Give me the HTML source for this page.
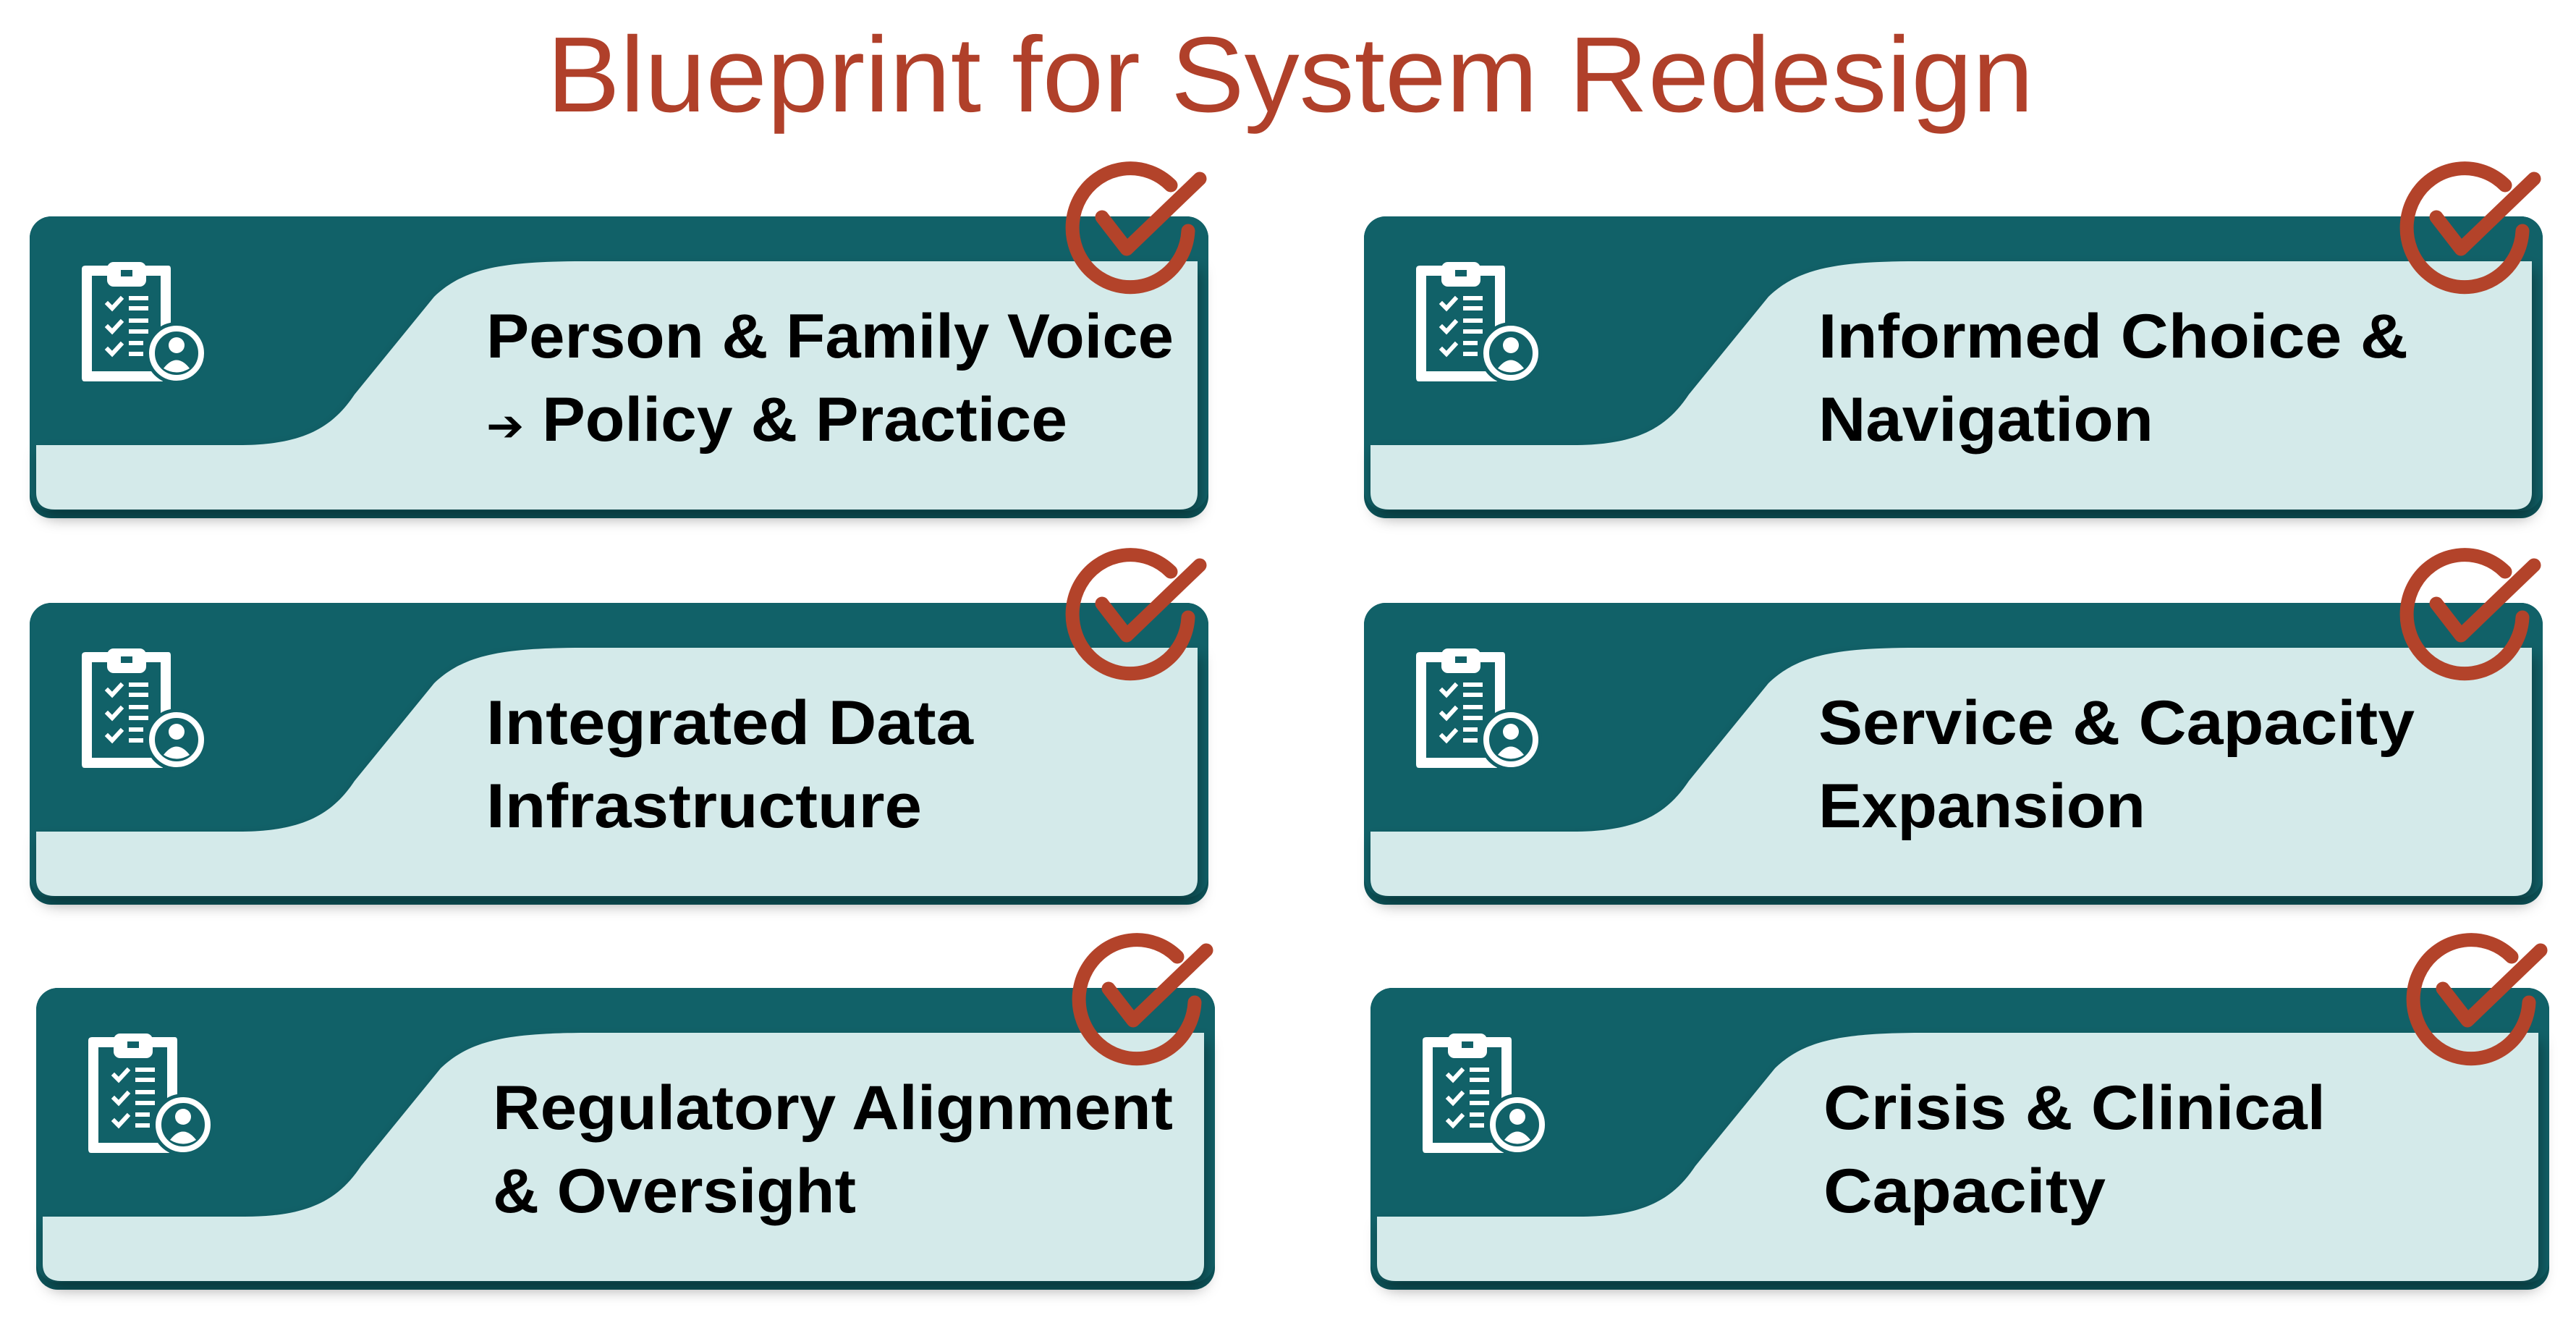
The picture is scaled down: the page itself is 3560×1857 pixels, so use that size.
<!DOCTYPE html>
<html><head><meta charset="utf-8"><style>
html,body{margin:0;padding:0;background:#fff;}
svg{display:block;}
</style></head><body>
<svg width="3560" height="1857" viewBox="0 0 3560 1857" xmlns="http://www.w3.org/2000/svg">
<defs>
<filter id="sh" x="-5%" y="-10%" width="110%" height="130%">
<feDropShadow dx="4" dy="12" stdDeviation="10" flood-color="#000" flood-opacity="0.35"/>
</filter>
<g id="card">
<rect x="41" y="299" width="1629" height="417" rx="30" fill="#0c555b"/>
<rect x="41" y="299" width="1629" height="407" rx="30" fill="#116168"/>
<path filter="url(#sh)" d="M50,615 L330,615 C420,615 460,590 490,545 L600,410 C640,372 690,361 806,361 L1655,361 L1655,680 Q1655,704 1630,704 L76,704 Q50,704 50,680 Z" fill="#d4eaea"/>
<path d="M125,367 L233,367 Q236,367 236,372 L236,470 L222,470 L222,381 L127,381 L127,513 L225,513 L225,527 L117,527 Q113,527 113,522 L113,372 Q113,367 118,367 Z" fill="#fff"/>
<rect x="148" y="362" width="54" height="34" rx="9" fill="#fff"/>
<rect x="167" y="373" width="16" height="9" fill="#116168"/>
<g stroke="#fff" stroke-width="6" fill="none" stroke-linecap="square">
<path d="M149,420 L155,426 L167,413"/>
<path d="M149,452 L155,458 L167,445"/>
<path d="M149,483 L155,489 L167,476"/>
</g>
<g fill="#fff">
<rect x="178" y="409" width="27" height="6"/><rect x="178" y="423" width="27" height="6"/>
<rect x="178" y="440" width="27" height="6"/><rect x="178" y="455" width="27" height="6"/>
<rect x="178" y="471" width="20" height="6"/><rect x="178" y="486" width="20" height="6"/>
</g>
<circle cx="244" cy="488" r="43" fill="#116168"/>
<circle cx="244" cy="488" r="34" fill="none" stroke="#fff" stroke-width="8"/>
<circle cx="244" cy="477" r="11" fill="#fff"/>
<path d="M226,509 Q244,486 262,509 Q244,520 226,509 Z" fill="#fff"/>
<path d="M1618,256 A80,82 0 1,0 1642,319" fill="none" stroke="#b3432a" stroke-width="19" stroke-linecap="round"/>
<path d="M1523,300 L1557,344 L1658,247" fill="none" stroke="#b3432a" stroke-width="19" stroke-linecap="round" stroke-linejoin="round"/>
</g>
</defs>
<text x="1783" y="154" text-anchor="middle" font-family="Liberation Sans, sans-serif" font-size="148" fill="#b0402a" textLength="2055" lengthAdjust="spacingAndGlyphs">Blueprint for System Redesign</text>

<use href="#card"/>
<use href="#card" transform="translate(1844,0)"/>
<use href="#card" transform="translate(0,534)"/>
<use href="#card" transform="translate(1844,534)"/>
<use href="#card" transform="translate(9,1066)"/>
<use href="#card" transform="translate(1853,1066)"/>

<g font-family="Liberation Sans, DejaVu Sans, sans-serif" font-weight="bold" font-size="86" fill="#000">
<text x="672" y="494" textLength="950" lengthAdjust="spacingAndGlyphs">Person &amp; Family Voice</text>
<text x="672" y="609" textLength="803" lengthAdjust="spacingAndGlyphs"><tspan font-family="DejaVu Sans, sans-serif" font-size="60">➔</tspan> Policy &amp; Practice</text>
<text x="2513" y="494" textLength="815" lengthAdjust="spacingAndGlyphs">Informed Choice &amp;</text>
<text x="2513" y="609" textLength="463" lengthAdjust="spacingAndGlyphs">Navigation</text>
<text x="672" y="1028" textLength="673" lengthAdjust="spacingAndGlyphs">Integrated Data</text>
<text x="672" y="1143" textLength="602" lengthAdjust="spacingAndGlyphs">Infrastructure</text>
<text x="2513" y="1028" textLength="824" lengthAdjust="spacingAndGlyphs">Service &amp; Capacity</text>
<text x="2513" y="1143" textLength="452" lengthAdjust="spacingAndGlyphs">Expansion</text>
<text x="681" y="1560" textLength="940" lengthAdjust="spacingAndGlyphs">Regulatory Alignment</text>
<text x="681" y="1675" textLength="502" lengthAdjust="spacingAndGlyphs">&amp; Oversight</text>
<text x="2520" y="1560" textLength="694" lengthAdjust="spacingAndGlyphs">Crisis &amp; Clinical</text>
<text x="2520" y="1675" textLength="390" lengthAdjust="spacingAndGlyphs">Capacity</text>
</g>
</svg>
</body></html>
